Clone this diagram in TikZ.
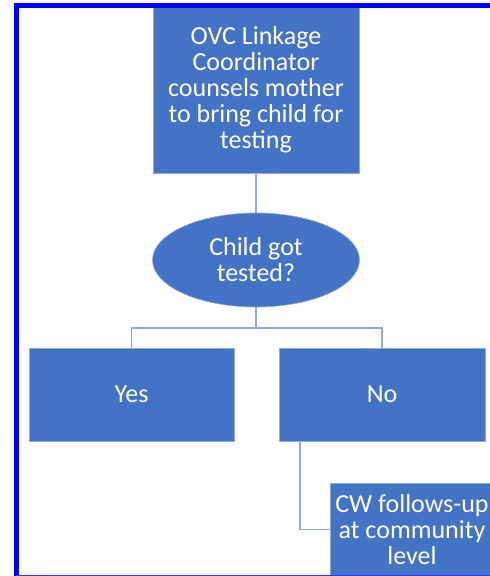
\documentclass[tikz,border=0pt]{standalone}
\usepackage{fontspec}
\setmainfont{Carlito}
\usetikzlibrary{shapes.geometric}
\definecolor{boxblue}{HTML}{4472C4}
\definecolor{linkblue}{HTML}{8FAADC}
\definecolor{frameblue}{HTML}{0000FF}
\tikzset{
  stepbox/.style={rectangle, fill=boxblue, draw=boxblue!60!white, line width=0.6pt,
    text=white, align=center, inner sep=0pt, font=\fontsize{26}{26}\selectfont},
  decision/.style={ellipse, fill=boxblue, draw=boxblue!60!white, line width=0.6pt,
    text=white, align=center, inner sep=0pt, minimum width=207pt, minimum height=94pt,
    font=\fontsize{26}{26}\selectfont},
  link/.style={draw=linkblue, line width=1.6pt}
}
\begin{document}
\begin{tikzpicture}[x=1pt,y=-1pt]
\useasboundingbox (0,0) rectangle (490,576);
\clip (0,0) rectangle (490,576);
\fill[white] (0,0) rectangle (490,576);
\node[stepbox, minimum width=206pt, minimum height=166pt] (top) at (256,90) {OVC Linkage\\Coordinator\\counsels mother\\to bring child for\\testing};
\node[decision] (q) at (256,260) {Child got\\tested?};
\node[stepbox, minimum width=205pt, minimum height=93pt] (yes) at (131.5,394.5) {Yes};
\node[stepbox, minimum width=206pt, minimum height=93pt] (no) at (382,394.5) {No};
\node[stepbox, minimum width=164pt, minimum height=93pt] (cw) at (412,529.5) {CW follows-up\\at community\\level};
\coordinate (j) at (256,328);
\coordinate (nl) at (300,441);
\draw[link] (top.south) -- (q.north);
\draw[link] (q.south) -- (j);
\draw[link] (j) -| (yes.north);
\draw[link] (j) -| (no.north);
\draw[link] (nl) |- (cw.west);
% frame
\draw[frameblue, line width=5pt] (16,576) -- (16,5.5) -- (490,5.5);
\draw[frameblue!80!white, line width=1.2pt] (16,575.4) -- (490,575.4);
\end{tikzpicture}
\end{document}
